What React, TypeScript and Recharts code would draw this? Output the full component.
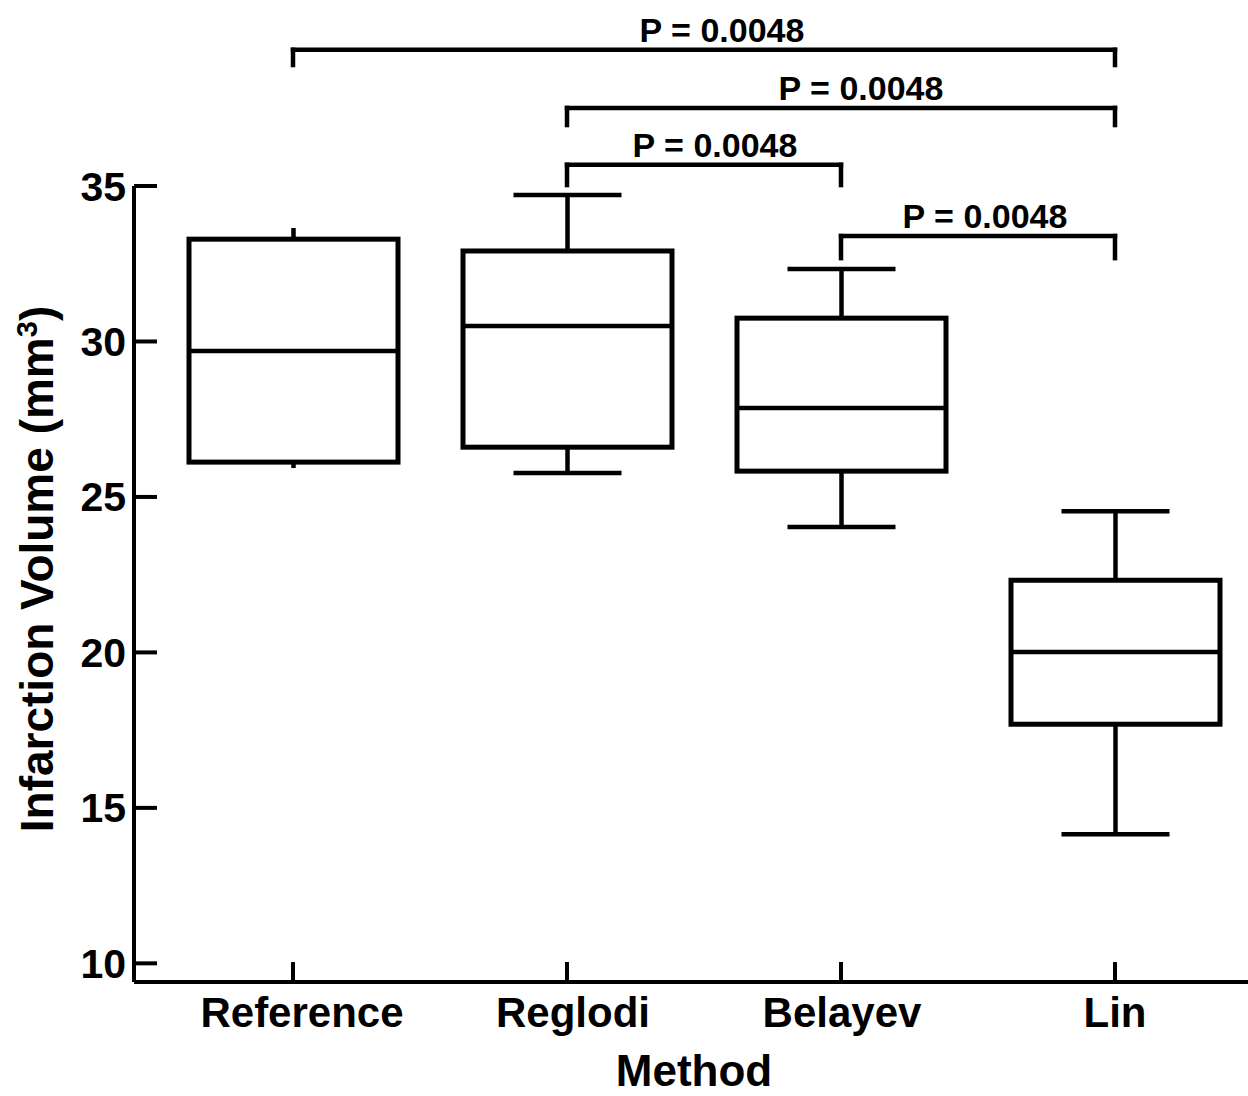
import React from 'react';
import { ComposedChart, Bar, XAxis, YAxis, ReferenceLine } from 'recharts';

// ---------- data ----------
const categories = ['Reference', 'Reglodi', 'Belayev', 'Lin'];
const minValues = [25.93, 25.77, 24.03, 14.15];
const q1Values = [26.12, 26.6, 25.83, 17.69];
const medianValues = [29.69, 30.5, 27.86, 20.01];
const q3Values = [33.29, 32.91, 30.75, 22.32];
const maxValues = [33.65, 34.71, 32.33, 24.54];
const yTicks = [10, 15, 20, 25, 30, 35];

// significance comparisons
const comparisonFrom = ['Reference', 'Reglodi', 'Reglodi', 'Belayev'];
const comparisonTo = ['Lin', 'Lin', 'Belayev', 'Lin'];
const pValueLabels = ['P = 0.0048', 'P = 0.0048', 'P = 0.0048', 'P = 0.0048'];

// ---------- annotation layout (in data units / px) ----------
const bracketLevels = [39.38, 37.51, 35.68, 33.39];
const bracketLegEnds = [38.89, 36.96, 35.03, 32.68];
const labelShift = [18, 20, 11, 7];
const xLabelShift: Record<string, number> = { Reference: 9, Reglodi: 6, Belayev: 1, Lin: 0 };

// groups drawn without whisker caps
const noCapGroups = new Set(['Reference']);

const FONT = '"Liberation Sans", Arial, Helvetica, sans-serif';
const Y_TICK_MARGIN = 8;
const X_TICK_MARGIN = 15;

const data = categories.map((name, i) => ({
  name,
  min: minValues[i],
  q1: q1Values[i],
  median: medianValues[i],
  q3: q3Values[i],
  max: maxValues[i],
}));

const BoxShape = (props: any) => {
  const { x, y, width, height, payload } = props;
  if (!payload) return null;
  const top = Math.min(y, y + height);
  const bottom = Math.max(y, y + height);
  const span = payload.max - payload.min;
  const ppu = (bottom - top) / span;
  const yOf = (v: number) => top + (payload.max - v) * ppu;
  const cx = x + width / 2;
  const capHalf = 54;
  const yQ3 = yOf(payload.q3);
  const yQ1 = yOf(payload.q1);
  const yMed = yOf(payload.median);
  const showCap = !noCapGroups.has(payload.name);
  return (
    <g>
      <line x1={cx} x2={cx} y1={top} y2={yQ3} stroke="#000" strokeWidth={4.5} />
      <line x1={cx} x2={cx} y1={yQ1} y2={bottom} stroke="#000" strokeWidth={4.5} />
      {showCap && (
        <line x1={cx - capHalf} x2={cx + capHalf} y1={top} y2={top} stroke="#000" strokeWidth={4.5} />
      )}
      {showCap && (
        <line x1={cx - capHalf} x2={cx + capHalf} y1={bottom} y2={bottom} stroke="#000" strokeWidth={4.5} />
      )}
      <rect x={x} y={yQ3} width={width} height={yQ1 - yQ3} fill="#fff" stroke="#000" strokeWidth={5} />
      <line x1={x} x2={x + width} y1={yMed} y2={yMed} stroke="#000" strokeWidth={4.5} />
    </g>
  );
};

const YTick = (props: any) => {
  const { x, y, payload } = props;
  const axisX = x + Y_TICK_MARGIN;
  return (
    <g>
      <line x1={axisX} x2={axisX + 23} y1={y} y2={y} stroke="#000" strokeWidth={4} />
      <text
        x={x}
        y={y}
        dy="0.355em"
        textAnchor="end"
        fontSize={41}
        fontWeight="bold"
        fontFamily={FONT}
        fill="#000"
      >
        {payload.value}
      </text>
    </g>
  );
};

const XTick = (props: any) => {
  const { x, y, payload } = props;
  const axisY = y - X_TICK_MARGIN;
  const shift = xLabelShift[payload.value] || 0;
  return (
    <g>
      <line x1={x} x2={x} y1={axisY} y2={axisY - 20} stroke="#000" strokeWidth={4} />
      <text
        x={x + shift}
        y={y}
        dy="0.71em"
        textAnchor="middle"
        fontSize={42}
        fontWeight="bold"
        fontFamily={FONT}
        fill="#000"
      >
        {payload.value}
      </text>
    </g>
  );
};

const YLabel = (props: any) => {
  const vb = props.viewBox || { x: 0, y: 186, width: 134, height: 796 };
  const cx = vb.x + 37;
  const cy = vb.y + vb.height / 2 - 15;
  return (
    <text
      x={cx}
      y={cy}
      dy="0.355em"
      textAnchor="middle"
      transform={`rotate(-90, ${cx}, ${cy})`}
      fontSize={46}
      fontWeight="bold"
      fontFamily={FONT}
      fill="#000"
    >
      <tspan>Infarction Volume (mm</tspan>
      <tspan fontSize={29} dy={-16}>3</tspan>
      <tspan dy={16}>)</tspan>
    </text>
  );
};

const XLabel = (props: any) => {
  const vb = props.viewBox || { x: 134, y: 982, width: 1114, height: 114 };
  return (
    <text
      x={vb.x + vb.width / 2 + 3}
      y={vb.y + 104}
      textAnchor="middle"
      fontSize={44}
      fontWeight="bold"
      fontFamily={FONT}
      fill="#000"
    >
      Method
    </text>
  );
};

const makeBracketLabel = (text: string, shift: number) => (p: any) => {
  const vb = p.viewBox;
  if (!vb) return null;
  return (
    <text
      x={vb.x + vb.width / 2 + shift}
      y={vb.y - 8}
      textAnchor="middle"
      fontSize={34}
      fontWeight="bold"
      fontFamily={FONT}
      fill="#000"
    >
      {text}
    </text>
  );
};

export default function App() {
  const bracketLines: React.ReactNode[] = [];
  comparisonFrom.forEach((from, i) => {
    const to = comparisonTo[i];
    const lvl = bracketLevels[i];
    const leg = bracketLegEnds[i];
    bracketLines.push(
      <ReferenceLine
        key={`h${i}`}
        segment={[
          { x: from, y: lvl },
          { x: to, y: lvl },
        ]}
        stroke="#000"
        strokeWidth={4.5}
        strokeLinecap="square"
        ifOverflow="visible"
        label={{ content: makeBracketLabel(pValueLabels[i], labelShift[i]) }}
      />
    );
    bracketLines.push(
      <ReferenceLine
        key={`l${i}`}
        segment={[
          { x: from, y: lvl },
          { x: from, y: leg },
        ]}
        stroke="#000"
        strokeWidth={4.5}
        strokeLinecap="square"
        ifOverflow="visible"
      />
    );
    bracketLines.push(
      <ReferenceLine
        key={`r${i}`}
        segment={[
          { x: to, y: lvl },
          { x: to, y: leg },
        ]}
        stroke="#000"
        strokeWidth={4.5}
        strokeLinecap="square"
        ifOverflow="visible"
      />
    );
  });

  return (
    <div style={{ position: 'absolute', left: 0, top: 0, width: 1248, height: 1096, background: '#fff' }}>
      <ComposedChart
        width={1248}
        height={1096}
        data={data}
        margin={{ top: 186, right: 0, bottom: 0, left: 0 }}
      >
        <XAxis
          dataKey="name"
          type="category"
          height={114}
          padding={{ left: 22, right: -4 }}
          axisLine={{ stroke: '#000', strokeWidth: 4 }}
          tickLine={false}
          tickSize={0}
          tickMargin={X_TICK_MARGIN}
          tick={<XTick />}
          interval={0}
          label={{ content: (p: any) => <XLabel {...p} /> }}
        />
        <YAxis
          type="number"
          domain={[9.4, 35]}
          ticks={yTicks}
          width={134}
          axisLine={{ stroke: '#000', strokeWidth: 4 }}
          tickLine={false}
          tickSize={0}
          tickMargin={Y_TICK_MARGIN}
          tick={<YTick />}
          interval={0}
          label={{ content: (p: any) => <YLabel {...p} /> }}
        />
        <Bar
          dataKey={(d: any) => [d.min, d.max]}
          barSize={209}
          shape={<BoxShape />}
          isAnimationActive={false}
          fill="#fff"
        />
        {bracketLines}
      </ComposedChart>
    </div>
  );
}
